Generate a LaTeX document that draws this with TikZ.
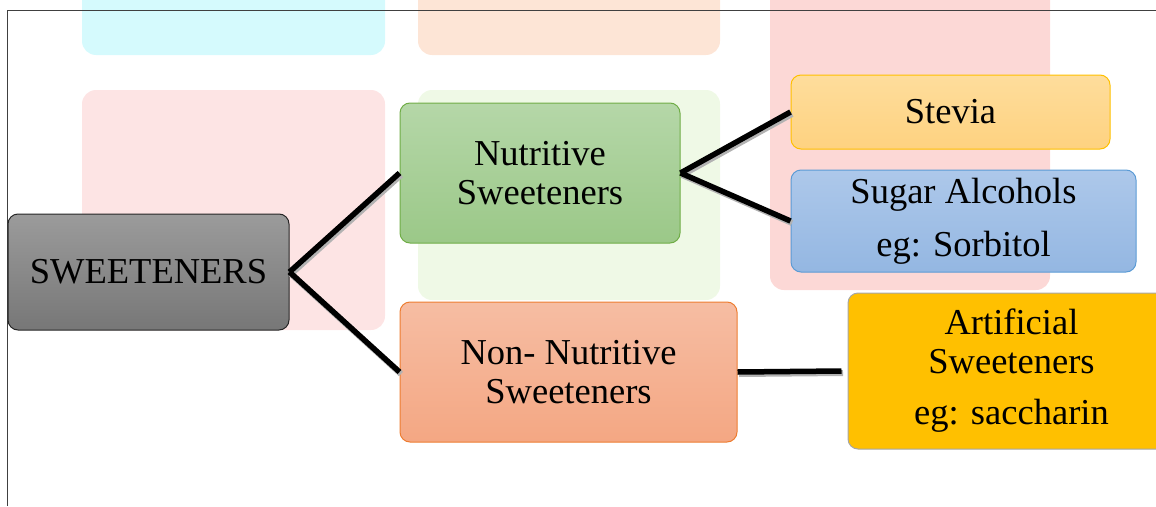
\documentclass[tikz,border=0pt]{standalone}
\usepackage{fontspec}
\setmainfont{Liberation Serif}
\definecolor{grisH}{HTML}{9B9B9B}
\definecolor{grisB}{HTML}{777777}
\definecolor{vertH}{HTML}{B5D7A8}
\definecolor{vertB}{HTML}{9BC888}
\definecolor{vertT}{HTML}{70AD47}
\definecolor{saumonH}{HTML}{F6BDA3}
\definecolor{saumonB}{HTML}{F4A783}
\definecolor{saumonT}{HTML}{ED7D31}
\definecolor{jauneH}{HTML}{FEDD9C}
\definecolor{jauneB}{HTML}{FED280}
\definecolor{or}{HTML}{FFC000}
\definecolor{bleuH}{HTML}{ADC8EA}
\definecolor{bleuB}{HTML}{94B7E2}
\definecolor{bleuT}{HTML}{5B9BD5}
\begin{document}
\begin{tikzpicture}[x=1pt, y=-1pt]
	\tikzset{boite/.style={rectangle, rounded corners=10pt, draw, line width=1pt, align=center, inner sep=0pt, font=\fontsize{36.5}{39}\selectfont},
		lien/.style={line width=5.5pt, black, preaction={draw, black!30, line width=6pt, transform canvas={shift={(1.5pt,-2pt)}}}},
		fond/.style={rounded corners=14pt, draw=none}};

	\useasboundingbox (0,0) rectangle (1156,506);

	% filigrane
	\fill[fond, fill={rgb,255:red,213;green,250;blue,253}] (82,-20) rectangle (385,55);
	\fill[fond, fill={rgb,255:red,253;green,229;blue,214}] (418,-20) rectangle (720,55);
	\fill[fond, fill={rgb,255:red,253;green,228;blue,228}] (82,90) rectangle (385,330);
	\fill[fond, fill={rgb,255:red,239;green,249;blue,230}] (418,90) rectangle (720,300);
	\fill[fond, fill={rgb,255:red,252;green,216;blue,214}] (770,-20) rectangle (1050,290);

	% cadre
	\draw[black!75, line width=1pt] (7,506) -- (7,10) -- (1156,10);

	\node[boite, draw=black!85, top color=grisH, bottom color=grisB, minimum width=281pt, minimum height=116pt] (sw) at (148.5,272) {SWEETENERS};
	\node[boite, draw=vertT, top color=vertH, bottom color=vertB, minimum width=280pt, minimum height=140pt] (nut) at (540,173) {Nutritive\\Sweeteners};
	\node[boite, draw=saumonT, top color=saumonH, bottom color=saumonB, minimum width=337pt, minimum height=140pt] (nonnut) at (568.5,372) {Non- Nutritive\\Sweeteners};
	\node[boite, draw=or, top color=jauneH, bottom color=jauneB, minimum width=319pt, minimum height=74pt] (stevia) at (950.5,112) {Stevia};
	\node[boite, draw=bleuT, top color=bleuH, bottom color=bleuB, minimum width=345pt, minimum height=102pt] (sugar) at (963.5,221) {Sugar Alcohols\\[14pt]eg: Sorbitol};
	\node[boite, draw=black!35, fill=or, minimum width=327pt, minimum height=156pt] (artif) at (1011.5,371) {Artificial\\Sweeteners\\[12pt]eg: saccharin};

	\draw[lien] (sw.east) -- (nut.west);
	\draw[lien] (sw.east) -- (nonnut.west);
	\draw[lien] (nut.east) -- (stevia.west);
	\draw[lien] (nut.east) -- (sugar.west);
	\draw[lien] (nonnut.east) -- ([xshift=-6pt]artif.west);
\end{tikzpicture}
\end{document}
